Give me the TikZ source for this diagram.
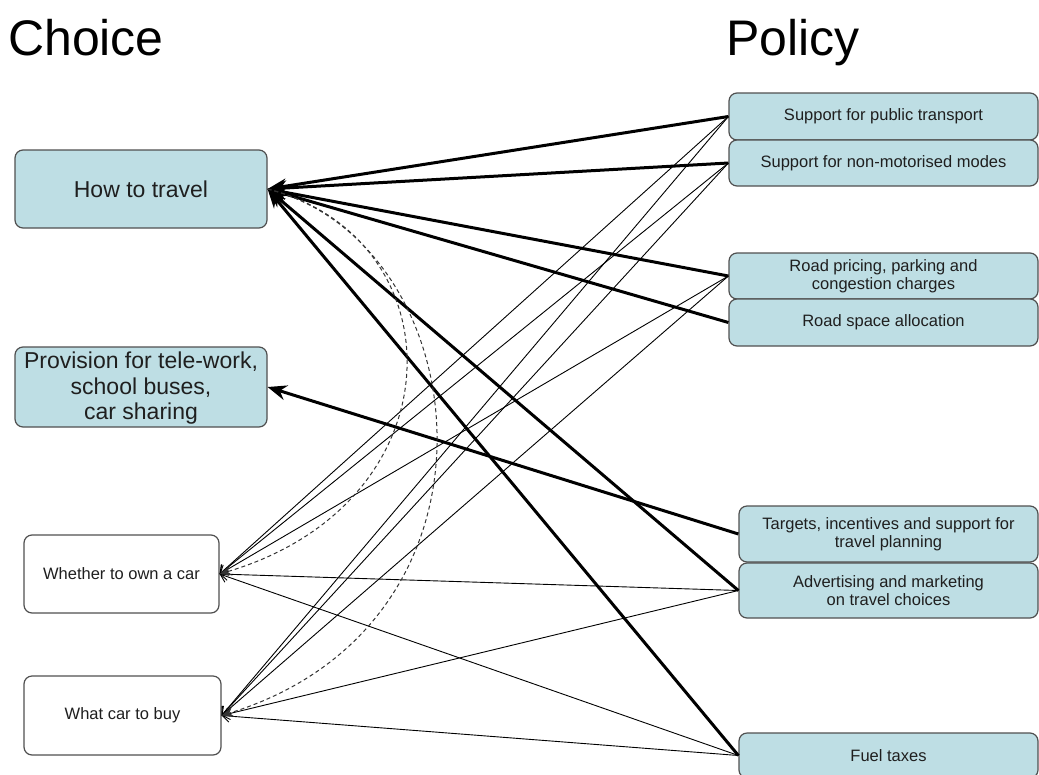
\documentclass[tikz,border=0pt]{standalone}
\usepackage{fontspec}
\setmainfont{Liberation Sans}
\usetikzlibrary{arrows.meta}
\definecolor{policyblue}{RGB}{190,222,228}
\definecolor{boxline}{RGB}{80,80,80}

\begin{document}
\begin{tikzpicture}[x=1pt,y=-1pt,
    box/.style={draw=boxline,line width=1.2pt,rounded corners=8pt,inner sep=0pt,align=center,text=black!88},
    bigbox/.style={box,font=\fontsize{23}{25.5}\selectfont},
    smallbox/.style={box,font=\fontsize{16.5}{18}\selectfont},
    heading/.style={font=\fontsize{50}{50}\selectfont,anchor=base west,inner sep=0pt},
    strong/.style={line width=3pt,-{Stealth[length=19pt,width=15pt]}},
    weak/.style={line width=0.9pt,-{Straight Barb[length=7pt,width=12pt]}},
    maybe/.style={line width=1pt,black!80,dash pattern=on 4pt off 3pt,-{Stealth[length=12pt,width=10pt]}}]
        \useasboundingbox (0,0) rectangle (1039,774);
        % Headings
        \node[heading] (choice) at (8,55) {Choice};
        \node[heading] (policy) at (726,55) {Policy};
        % Choice side
        \node[bigbox,fill=policyblue,minimum width=252pt,minimum height=78pt] (travel) at (141,189) {How to travel};
        \node[bigbox,fill=policyblue,minimum width=252pt,minimum height=80pt] (provision) at (141,387) {\rule{0pt}{19pt}Provision for tele-work,\\school buses,\\car sharing};
        \node[smallbox,fill=white,minimum width=195pt,minimum height=78pt] (own) at (121.5,574) {Whether to own a car};
        \node[smallbox,fill=white,minimum width=197pt,minimum height=79pt] (buy) at (122.5,715.5) {What car to buy};
        % Policy side
        \node[smallbox,fill=policyblue,minimum width=309pt,minimum height=47pt] (pubtr) at (883.5,116.5) {Support for public transport};
        \node[smallbox,fill=policyblue,minimum width=309pt,minimum height=46pt] (nonmot) at (883.5,163) {Support for non-motorised modes};
        \node[smallbox,fill=policyblue,minimum width=309pt,minimum height=46pt] (pricing) at (883.5,276) {Road pricing, parking and\\congestion charges};
        \node[smallbox,fill=policyblue,minimum width=309pt,minimum height=47pt] (space) at (883.5,322.5) {Road space allocation};
        \node[smallbox,fill=policyblue,minimum width=299pt,minimum height=56pt] (targets) at (888.5,534) {Targets, incentives and support for\\travel planning};
        \node[smallbox,fill=policyblue,minimum width=299pt,minimum height=55pt] (advert) at (888.5,590.5) {Advertising and marketing\\on travel choices};
        \node[smallbox,fill=policyblue,minimum width=299pt,minimum height=45pt] (fuel) at (888.5,755.5) {Fuel taxes};
        % Strong influence
        \draw[strong] (pubtr.west) -- (travel.east);
        \draw[strong] (nonmot.west) -- (travel.east);
        \draw[strong] (pricing.west) -- (travel.east);
        \draw[strong] (space.west) -- (travel.east);
        \draw[strong] (advert.west) -- (travel.east);
        \draw[strong] (fuel.west) -- (travel.east);
        \draw[strong] (targets.west) -- (provision.east);
        % Weak influence
        \draw[weak] (pubtr.west) -- (own.east);
        \draw[weak] (pubtr.west) -- (buy.east);
        \draw[weak] (nonmot.west) -- (own.east);
        \draw[weak] (nonmot.west) -- (buy.east);
        \draw[weak] (pricing.west) -- (own.east);
        \draw[weak] (pricing.west) -- (buy.east);
        \draw[weak] (advert.west) -- (own.east);
        \draw[weak] (advert.west) -- (buy.east);
        \draw[weak] (fuel.west) -- (own.east);
        \draw[weak] (fuel.west) -- (buy.east);
        % Travel choice feeds car choices
        \draw[maybe] (travel.east) .. controls (458,237.5) and (462,502) .. (own.east);
        \draw[maybe] (travel.east) .. controls (478,242.5) and (522,623) .. (buy.east);
\end{tikzpicture}
\end{document}
